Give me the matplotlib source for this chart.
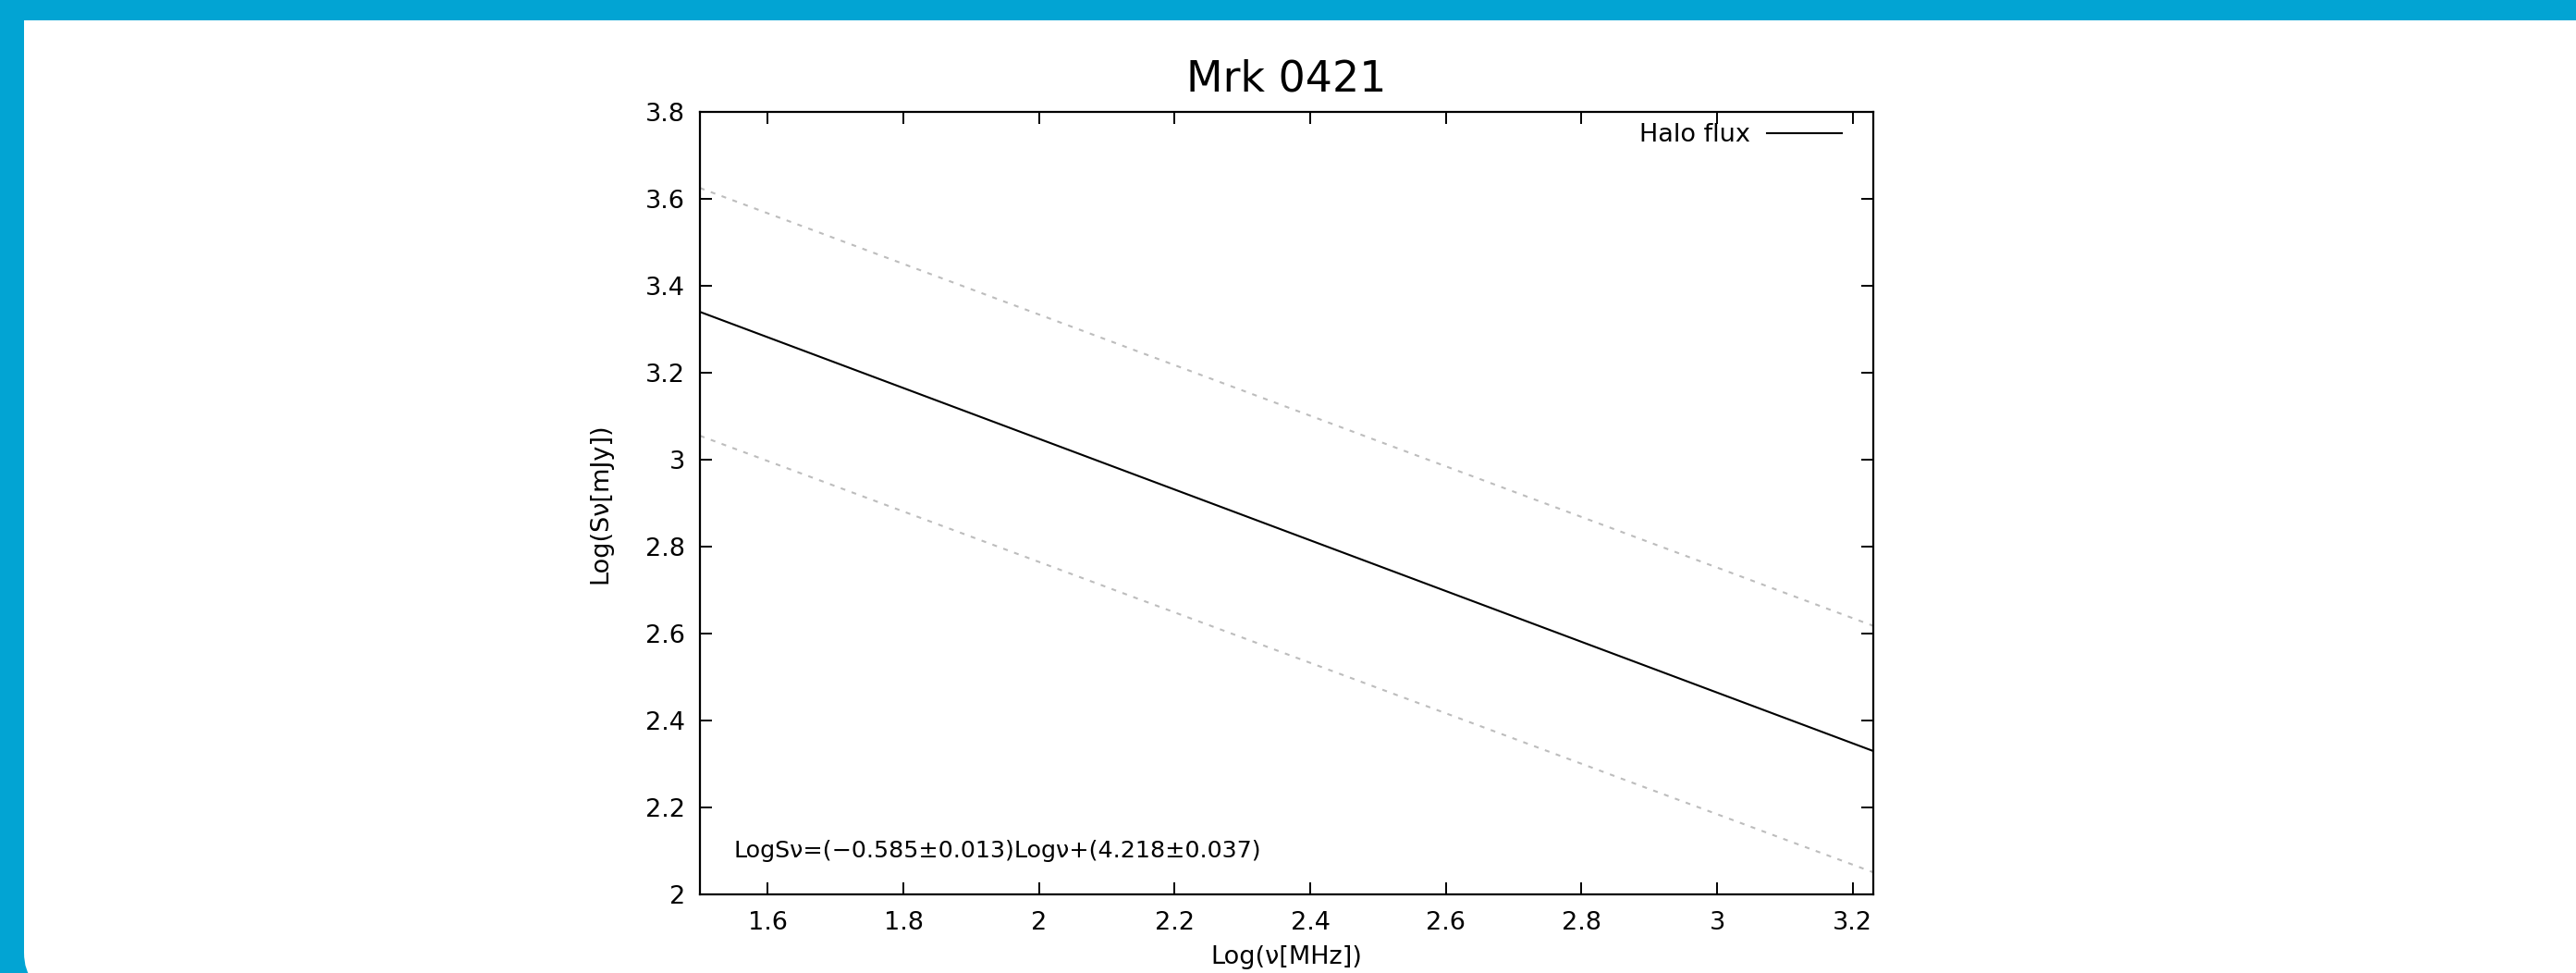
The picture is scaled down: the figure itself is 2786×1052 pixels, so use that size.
import matplotlib
matplotlib.use("Agg")
import matplotlib.pyplot as plt
from matplotlib.patches import FancyBboxPatch, Rectangle
from matplotlib.transforms import IdentityTransform
import numpy as np

# ---- data ----
title = "Mrk 0421"
x_ends = [1.5, 3.23]                 # Log(nu[MHz]) at the frame edges
fit_y = [3.340, 2.330]               # Halo flux fit line
upper_y = [3.625, 2.618]             # upper dotted bound
lower_y = [3.055, 2.051]             # lower dotted bound
xticks = [1.6, 1.8, 2.0, 2.2, 2.4, 2.6, 2.8, 3.0, 3.2]
yticks = [2.0, 2.2, 2.4, 2.6, 2.8, 3.0, 3.2, 3.4, 3.6, 3.8]
legend_label = "Halo flux"
fit_text = "LogS\u03bd=(\u22120.585\u00b10.013)Log\u03bd+(4.218\u00b10.037)"
xlabel = "Log(\u03bd[MHz])"
ylabel = "Log(S\u03bd[mJy])"

W, H, DPI = 2786, 1052, 100
plt.rcParams['font.family'] = ['DejaVu Sans']
fig = plt.figure(figsize=(W / DPI, H / DPI), dpi=DPI)
fig.patch.set_facecolor('#02A4D3')

# white card with rounded bottom corners
card = FancyBboxPatch((26, -18), 2790 - 26, 1030 + 18,
                      boxstyle="round,pad=0,rounding_size=40",
                      transform=IdentityTransform(), facecolor='white',
                      edgecolor='none', zorder=-10)
fig.patches.append(card)
top = Rectangle((26, 500), 2800 - 26, 530, transform=IdentityTransform(),
                facecolor='white', edgecolor='none', zorder=-10)
fig.patches.append(top)

ax = fig.add_axes([757 / W, 1 - 967 / H, (2025.7 - 757) / W, (967 - 121) / H])
ax.set_zorder(5)
ax.set_facecolor('white')

ax.plot(x_ends, upper_y, color='#BDBDBD', lw=1.5, dashes=(2.5, 3.5), zorder=2)
ax.plot(x_ends, lower_y, color='#BDBDBD', lw=1.5, dashes=(2.5, 3.5), zorder=2)
ax.plot(x_ends, fit_y, color='black', lw=1.5, label=legend_label, zorder=3)

ax.set_xlim(x_ends[0], x_ends[1])
ax.set_ylim(yticks[0], yticks[-1])
ax.set_xticks(xticks)
ax.set_yticks(yticks)
ax.set_xticklabels(["%g" % v for v in xticks])
ax.set_yticklabels(["%g" % v for v in yticks])

for s in ax.spines.values():
    s.set_linewidth(1.6)
ax.tick_params(axis='both', which='both', direction='in', length=9.5, width=1.4,
               top=True, right=True, labelsize=19.5)
ax.tick_params(axis='y', pad=11.5)
ax.tick_params(axis='x', pad=13)

ax.set_title(title, fontsize=33, pad=16)
ax.set_xlabel(xlabel, fontsize=19.5, labelpad=8)
ax.set_ylabel(ylabel, fontsize=19.5, labelpad=26)

ax.text(0.029, 0.0556, fit_text, transform=ax.transAxes, fontsize=18.3,
        ha='left', va='center')

ax.legend(loc='upper right', frameon=False, markerfirst=False, fontsize=19.5,
          handlelength=3.0, handletextpad=0.67, borderpad=0.0,
          borderaxespad=0.0, bbox_to_anchor=(1 - 33.7 / 1268.7, 1 - 12 / 846))

fig.savefig("out.png", dpi=DPI, facecolor=fig.get_facecolor())
